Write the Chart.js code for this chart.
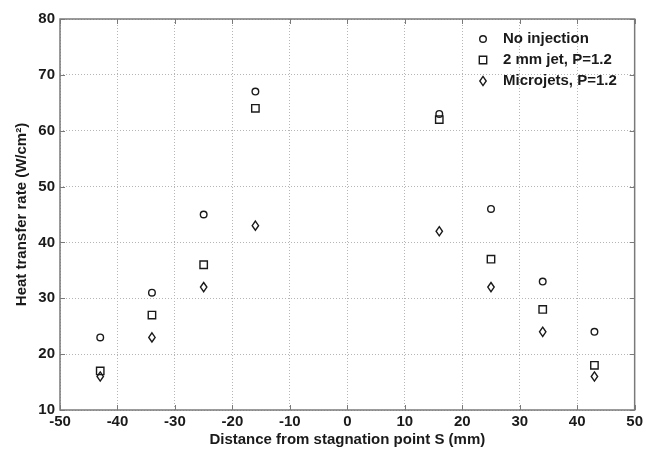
<!DOCTYPE html>
<html>
<head>
<meta charset="utf-8">
<script src="https://cdn.jsdelivr.net/npm/chart.js@4.4.0/dist/chart.umd.min.js"></script>
<style>
  body { margin: 0; background: #fff; }
  canvas { display: block; }
</style>
</head>
<body>
<canvas id="chart" width="646" height="450"></canvas>
<script>
// measurement positions along the surface (mm)
const positions = [-43, -34, -25, -16, 16, 25, 34, 43];
const noInjection = [23, 31, 45, 67, 63, 46, 33, 24];
const jet2mm = [17, 27, 36, 64, 62, 37, 28, 18];
const microjets = [16, 23, 32, 43, 42, 32, 24, 16];
const seriesNames = ['No injection', '2 mm jet, P=1.2', 'Microjets, P=1.2'];
const xTicks = [-50, -40, -30, -20, -10, 0, 10, 20, 30, 40, 50];
const yTicks = [10, 20, 30, 40, 50, 60, 70, 80];

const FONT = "'Liberation Sans', Arial, sans-serif";
const INK = '#1a1a1a';

function pts(ys) {
  return positions.map((x, i) => ({ x: x, y: ys[i] }));
}

function drawMarker(ctx, style, x, y) {
  ctx.beginPath();
  if (style === 'circle') {
    ctx.arc(x, y, 3.3, 0, Math.PI * 2);
  } else if (style === 'rect') {
    ctx.rect(x - 3.7, y - 3.7, 7.4, 7.4);
  } else {
    ctx.moveTo(x, y - 4.6);
    ctx.lineTo(x + 3.2, y);
    ctx.lineTo(x, y + 4.6);
    ctx.lineTo(x - 3.2, y);
    ctx.closePath();
  }
  ctx.stroke();
}

// frame, inward ticks on all four sides, and the legend in the upper right
const matlabFrame = {
  id: 'matlabFrame',
  afterDatasetsDraw(chart) {
    const ctx = chart.ctx;
    const a = chart.chartArea;
    const xs = chart.scales.x, ys = chart.scales.y;
    ctx.save();
    ctx.strokeStyle = '#7a7a7a';
    ctx.lineWidth = 1.5;
    ctx.strokeRect(a.left, a.top, a.right - a.left, a.bottom - a.top);
    ctx.lineWidth = 1;
    xTicks.forEach(v => {
      const px = Math.round(xs.getPixelForValue(v)) + 0.5;
      ctx.beginPath();
      ctx.moveTo(px, a.bottom); ctx.lineTo(px, a.bottom - 5);
      ctx.moveTo(px, a.top); ctx.lineTo(px, a.top + 5);
      ctx.stroke();
    });
    yTicks.forEach(v => {
      const py = Math.round(ys.getPixelForValue(v)) + 0.5;
      ctx.beginPath();
      ctx.moveTo(a.left, py); ctx.lineTo(a.left + 5, py);
      ctx.moveTo(a.right, py); ctx.lineTo(a.right - 5, py);
      ctx.stroke();
    });

    // legend
    ctx.font = 'bold 15px ' + FONT;
    ctx.textBaseline = 'middle';
    ctx.fillStyle = INK;
    chart.data.datasets.forEach((ds, i) => {
      const y = 39 + i * 21;
      ctx.strokeStyle = INK;
      ctx.lineWidth = 1.4;
      drawMarker(ctx, ds.pointStyle, 483, y);
      ctx.fillText(ds.label, 503, y);
    });
    ctx.restore();
  }
};

// open black markers drawn through the scales
const markerPlugin = {
  id: 'markers',
  afterDatasetsDraw(chart) {
    const ctx = chart.ctx;
    ctx.save();
    ctx.strokeStyle = INK;
    ctx.lineWidth = 1.4;
    chart.data.datasets.forEach((ds, i) => {
      chart.getDatasetMeta(i).data.forEach(el => {
        drawMarker(ctx, ds.pointStyle, el.x, el.y);
      });
    });
    ctx.restore();
  }
};

new Chart(document.getElementById('chart'), {
  type: 'scatter',
  data: {
    datasets: [
      { label: seriesNames[0], data: pts(noInjection), pointStyle: 'circle' },
      { label: seriesNames[1], data: pts(jet2mm), pointStyle: 'rect' },
      { label: seriesNames[2], data: pts(microjets), pointStyle: 'rectRot' }
    ].map(d => Object.assign(d, { pointRadius: 0, pointHoverRadius: 0, showLine: false }))
  },
  options: {
    responsive: false,
    animation: false,
    layout: { padding: { top: 19, right: 10, left: 0, bottom: 0 } },
    plugins: { legend: { display: false }, tooltip: { enabled: false } },
    scales: {
      x: {
        type: 'linear',
        min: -50, max: 50,
        afterBuildTicks: s => { s.ticks = xTicks.map(v => ({ value: v })); },
        afterFit: s => { s.height = 40; },
        grid: { color: '#b5b5b5', drawTicks: false, lineWidth: 1 },
        border: { display: false, dash: [1, 2] },
        ticks: { color: INK, padding: 3, font: { family: FONT, size: 15, weight: 'bold' }, maxRotation: 0 },
        title: {
          display: true,
          text: 'Distance from stagnation point S (mm)',
          color: INK,
          font: { family: FONT, size: 15, weight: 'bold' },
          padding: { top: 0, bottom: 1 }
        }
      },
      y: {
        type: 'linear',
        min: 10, max: 80,
        afterBuildTicks: s => { s.ticks = yTicks.map(v => ({ value: v })); },
        afterFit: s => { s.width = 60; },
        grid: { color: '#b5b5b5', drawTicks: false, lineWidth: 1 },
        border: { display: false, dash: [1, 2] },
        ticks: { color: INK, padding: 5, font: { family: FONT, size: 15, weight: 'bold' } },
        title: {
          display: true,
          text: 'Heat transfer rate (W/cm²)',
          color: INK,
          font: { family: FONT, size: 15, weight: 'bold' },
          padding: { top: 13, bottom: 0 }
        }
      }
    }
  },
  plugins: [markerPlugin, matlabFrame]
});
</script>
</body>
</html>
